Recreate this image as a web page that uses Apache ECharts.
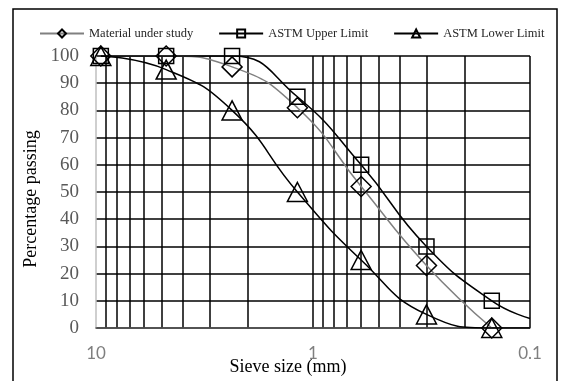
<!DOCTYPE html>
<html><head><meta charset="utf-8">
<script src="https://cdn.jsdelivr.net/npm/echarts@6/dist/echarts.min.js"></script>
<style>html,body{margin:0;padding:0;background:#fff}#c{width:562px;height:381px}</style>
</head><body><div id="c"></div>
<script>
// ---- data ----
const sieveSizes = [9.5, 4.75, 2.36, 1.18, 0.6, 0.3, 0.15];
const materialPassing = [100, 100, 96, 81, 52, 23, 0];
const upperLimit = [100, 100, 100, 85, 60, 30, 10];
const lowerLimit = [100, 95, 80, 50, 25, 5, 0];
// fitted curves of the limits continue to the edge of the axis
const curveEndSize = 0.1;
const upperCurveEnd = 3.5;
const lowerCurveEnd = 0;
// grid line positions on the log axis
const gridSizes = [9, 8, 7, 6, 5, 4, 3, 2, 1, 0.9, 0.8, 0.7, 0.6, 0.5, 0.4, 0.3, 0.2, 0.1];
const seriesNames = ['Material under study', 'ASTM Upper Limit', 'ASTM Lower Limit'];
const yMin = 0, yMax = 100, yInterval = 10;

function pts(vals, endVal) {
  const d = sieveSizes.map((s, i) => [s, vals[i]]);
  if (endVal !== undefined) d.push({ value: [curveEndSize, endVal], symbol: 'none' });
  return d;
}
const markerStyle = { color: 'rgba(255,255,255,0)', borderColor: '#000', borderWidth: 1.5 };
function mk(name, data, symbol, size, lineColor, extra) {
  return Object.assign({
    name, type: 'line', data, symbol, symbolSize: size,
    smooth: 0.5,
    itemStyle: markerStyle,
    lineStyle: { color: lineColor, width: 1.5 },
    emphasis: { disabled: true }, silent: true
  }, extra || {});
}

const chart = echarts.init(document.getElementById('c'), null, { renderer: 'canvas' });
chart.setOption({
  animation: false,
  backgroundColor: '#fff',
  grid: { left: 96, right: 32, top: 56, bottom: 53 },
  legend: {
    data: seriesNames, left: 34, top: 22, itemWidth: 44, itemHeight: 10, itemGap: 25,
    textStyle: { fontFamily: 'Liberation Serif', fontSize: 12.5, color: '#262626' },
    selectedMode: false
  },
  xAxis: {
    type: 'log', logBase: 10, min: 0.1, max: 10, inverse: true, z: 3,
    axisLine: { show: true, lineStyle: { color: '#595959', width: 1.5 } },
    axisTick: { show: false },
    splitLine: { show: false },
    axisLabel: {
      fontFamily: 'Lato', fontSize: 17, color: '#7f7f7f', margin: 17,
      showMinLabel: true, showMaxLabel: true,
      formatter: v => String(+(+v).toPrecision(3))
    }
  },
  yAxis: {
    type: 'value', min: yMin, max: yMax, interval: yInterval,
    axisLine: { show: true, lineStyle: { color: '#bfbfbf', width: 1.5 } },
    axisTick: { show: false },
    splitLine: { show: true, lineStyle: { color: '#000', width: 1.5 } },
    axisLabel: { fontFamily: 'Liberation Serif', fontSize: 19, color: '#595959', margin: 17 }
  },
  series: [
    mk(seriesNames[0], pts(materialPassing), 'diamond', 20, '#808080', {
      markLine: {
        silent: true, z: 1, symbol: ['none', 'none'], label: { show: false },
        lineStyle: { color: '#000', width: 1.5, type: 'solid' },
        emphasis: { disabled: true },
        data: gridSizes.map(v => ({ xAxis: v }))
      }
    }),
    mk(seriesNames[1], pts(upperLimit, upperCurveEnd), 'rect', 15, '#000'),
    mk(seriesNames[2], pts(lowerLimit, lowerCurveEnd), 'triangle', [20, 19], '#000')
  ],
  graphic: [
    { type: 'rect', shape: { x: 13, y: 9, width: 544, height: 380 },
      style: { fill: 'none', stroke: '#000', lineWidth: 1.5 }, z: -1, silent: true },
    { type: 'text', x: 288, y: 367,
      style: { text: 'Sieve size (mm)', font: '18px "Liberation Serif"', fill: '#000',
               textAlign: 'center', textVerticalAlign: 'middle' }, silent: true },
    { type: 'text', x: 31, y: 199, rotation: Math.PI / 2,
      style: { text: 'Percentage passing', font: '18px "Liberation Serif"', fill: '#000',
               textAlign: 'center', textVerticalAlign: 'middle' }, silent: true }
  ]
});
</script></body></html>
